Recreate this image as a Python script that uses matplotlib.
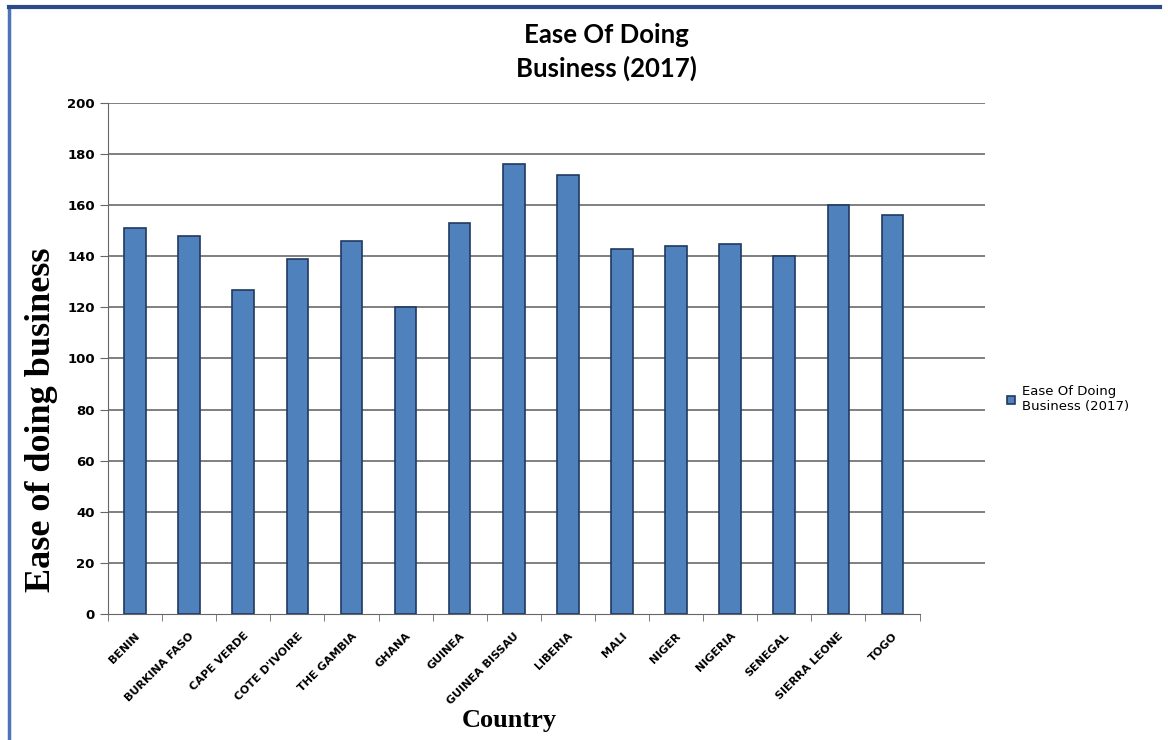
import matplotlib
matplotlib.use('Agg')
import matplotlib.pyplot as plt
from matplotlib.lines import Line2D
import numpy as np

countries = ['BENIN', 'BURKINA FASO', 'CAPE VERDE', "COTE D'IVOIRE", 'THE GAMBIA',
             'GHANA', 'GUINEA', 'GUINEA BISSAU', 'LIBERIA', 'MALI', 'NIGER',
             'NIGERIA', 'SENEGAL', 'SIERRA LEONE', 'TOGO']
ease_2017 = [151, 148, 127, 139, 146, 120, 153, 176, 172, 143, 144, 145, 140, 160, 156]
y_ticks = list(range(0, 201, 20))
series_name = 'Ease Of Doing\nBusiness (2017)'


def plot_data(out_fn):
    fig = plt.figure(figsize=(11.68, 7.40), dpi=100)
    ax = fig.add_axes([108/1168, 1 - 614/740, (985-108)/1168, (614-103)/740])

    x_pos = np.arange(len(countries))
    ax.bar(x_pos, ease_2017, width=0.4, color='#4F81BD', edgecolor='#1F3A60',
           lw=1.2, label=series_name, zorder=3)

    # category spacing ~54px, the gridlines run past the last category
    ax.set_xlim(-0.5, -0.5 + (985-108)/54.1)
    ax.set_ylim(0, 200)
    ax.set_yticks(y_ticks)
    ax.yaxis.grid(True, color='#7f7f7f', lw=1.4, zorder=0)
    ax.yaxis.get_gridlines()[0].set_visible(False)

    for side in ['top', 'right']:
        ax.spines[side].set_visible(False)
    ax.spines['left'].set_color('#666666')
    ax.spines['bottom'].set_color('#666666')
    ax.spines['bottom'].set_bounds(-0.5, len(countries) - 0.5)

    ax.set_xticks(np.arange(-0.5, len(countries)), minor=True)
    ax.set_xticks(x_pos)
    ax.set_xticklabels(countries, rotation=45, ha='right', rotation_mode='anchor',
                       fontsize=8, fontweight='bold', family='DejaVu Sans')
    ax.tick_params(axis='x', which='major', length=0, pad=12)
    ax.tick_params(axis='x', which='minor', length=5, color='#666666')
    ax.tick_params(axis='y', length=6, color='#666666', labelsize=9.5)
    for lbl in ax.get_yticklabels():
        lbl.set_fontweight('bold')

    fig.text(42/1168, 1 - 420/740, 'Ease of doing business', family='Liberation Serif',
             fontweight='bold', fontsize=26, rotation=90, ha='center', va='center')
    fig.text(509/1168, 1 - 720/740, 'Country', family='Liberation Serif',
             fontweight='bold', fontsize=19, ha='center', va='center')

    fig.text(606/1168, 1 - 52/740, 'Ease Of Doing\nBusiness (2017)', family='Lato',
             fontweight='bold', fontsize=18.5, ha='center', va='center',
             linespacing=1.45)

    ax.legend(loc='center left', bbox_to_anchor=(1.012, 0.42), frameon=False,
              fontsize=9.5, handlelength=0.6, handleheight=0.6, handletextpad=0.5)

    # blue page frame
    fig.add_artist(Line2D([9/1168, 9/1168], [0, 1 - 7/740], color='#4F73B8', lw=2.5))
    fig.add_artist(Line2D([9/1168, 1160/1168], [1 - 7/740, 1 - 7/740], color='#2B4A8A', lw=3))

    plt.savefig(out_fn, dpi=100)


if __name__ == '__main__':
    plot_data('out.png')
